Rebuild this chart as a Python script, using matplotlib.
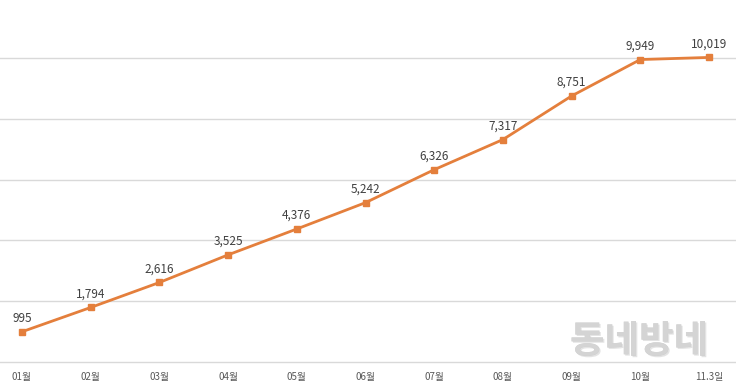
import matplotlib
matplotlib.use('Agg')
import matplotlib.pyplot as plt
import matplotlib.patheffects as pe

plt.rcParams['font.family'] = ['Noto Sans CJK KR', 'DejaVu Sans']

# data
months = ['01월', '02월', '03월', '04월', '05월', '06월', '07월', '08월', '09월', '10월', '11.3일']
values = [995, 1794, 2616, 3525, 4376, 5242, 6326, 7317, 8751, 9949, 10019]

fig = plt.figure(figsize=(7.36, 3.92), dpi=100)
# axes stretches a bit past the image edges like the cropped source
ax = fig.add_axes([-12.35 / 736, 30 / 392, 755.7 / 736, 362 / 392])

x = range(len(months))
ax.plot(x, values, color='#E47F3C', linewidth=2, marker='s', markersize=5,
        markerfacecolor='#E47F3C', markeredgecolor='#E47F3C', zorder=3)

for i, v in enumerate(values):
    ax.annotate(f'{v:,}', (i, v), xytext=(0, 5), textcoords='offset points',
                ha='center', va='bottom', fontsize=8.5, color='#404040')

ax.set_xlim(-0.5, len(months) - 0.5)
ax.set_ylim(0, 362 / 30.4 * 1000)
ax.set_yticks(range(0, 10001, 2000))
ax.set_yticklabels([])
ax.set_xticks(list(x))
ax.set_xticklabels(months, fontsize=7, color='#595959')
ax.tick_params(axis='both', length=0, pad=7)
ax.grid(axis='y', color='#D9D9D9', linewidth=1, clip_on=False)
ax.set_axisbelow(True)
for s in ax.spines.values():
    s.set_visible(False)

# watermark
fig.text(639 / 736, 1 - 341 / 392, '동네방네', ha='center', va='center',
         fontsize=27, fontweight='bold', color='#D4D4D4',
         path_effects=[pe.withStroke(linewidth=4, foreground='white'),
                       pe.withSimplePatchShadow(offset=(1, -1), shadow_rgbFace='#BBBBBB', alpha=0.4)])

fig.savefig('out.png', dpi=100, facecolor='white')
